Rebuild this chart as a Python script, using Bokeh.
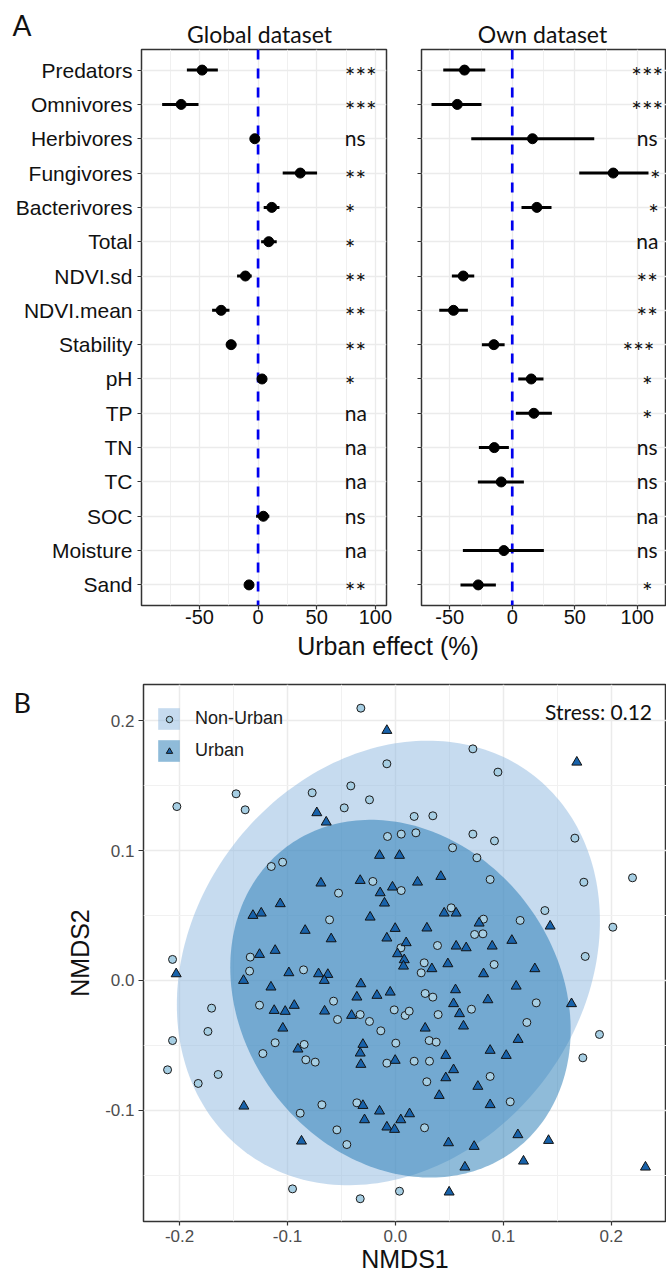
import numpy as np
from bokeh.plotting import figure
from bokeh.models import (FactorRange, Range1d, FixedTicker, Legend, LegendItem,
                          ColumnDataSource, Span, PrintfTickFormatter, CustomJSTickFormatter)
from bokeh.layouts import column, row
from bokeh.embed import file_html
from bokeh.resources import INLINE
from bokeh.core.properties import value

NA = float("nan")

# ---------------- Panel A data ----------------
categories = ["Predators", "Omnivores", "Herbivores", "Fungivores", "Bacterivores", "Total",
              "NDVI.sd", "NDVI.mean", "Stability", "pH", "TP", "TN", "TC", "SOC", "Moisture", "Sand"]

global_effect = [-47.7, -65.6, -2.8, 36.0, 11.7, 9.1, -10.8, -31.5, -23.0, 3.4, NA, NA, NA, 4.5, NA, -7.7]
global_lower = [-60.7, -81.8, -4.3, 21.0, 4.8, 2.6, -17.9, -39.2, -27.0, 1.6, NA, NA, NA, -1.7, NA, -9.4]
global_upper = [-34.3, -50.8, -1.3, 50.3, 18.2, 15.9, -5.4, -24.4, -18.5, 5.2, NA, NA, NA, 9.6, NA, -6.0]
global_signif = ["***", "***", "ns", "**", "*", "*", "**", "**", "**", "*", "na", "na", "na", "ns", "na", "**"]

own_effect = [-38.2, -44.0, 16.2, 80.8, 19.7, NA, -39.2, -47.0, -14.7, 15.2, 17.3, -14.4, -8.8, NA, -6.7, -27.2]
own_lower = [-55.2, -64.6, -32.8, 53.6, 7.4, NA, -48.3, -58.4, -24.3, 4.8, 2.9, -26.7, -27.5, NA, -39.5, -41.4]
own_upper = [-21.6, -24.6, 65.6, 109.0, 31.4, NA, -30.4, -35.5, -6.1, 25.0, 31.7, -2.7, 9.3, NA, 25.3, -13.1]
own_signif = ["***", "***", "ns", "*", "*", "na", "**", "**", "***", "*", "*", "ns", "ns", "na", "ns", "*"]

panel_titles = ["Global dataset", "Own dataset"]
effect_axis_title = "Urban effect (%)"
effect_ticks = [-50, 0, 50, 100]
effect_minor_ticks = [-75, -25, 25, 75]

# ---------------- Panel B data ----------------
nonurban_x = [
    -0.2025, -0.1476, -0.1392, -0.0771, -0.115, -0.1045, -0.061, -0.1345, -0.2065, -0.1351, -0.0851,
    -0.0573, -0.1259, -0.1703, -0.0536, -0.1737, -0.2065, -0.1114, -0.0845, -0.1228, -0.083,
    -0.0743, -0.2111, -0.1642, -0.1827, -0.0681, -0.0882, -0.0542, -0.0953,
    -0.032, -0.0079, 0.0718, 0.095, -0.0413, -0.024, -0.0474, 0.0174, 0.0347, -0.0073,
    0.0054, 0.019, 0.0718, 0.0918, 0.1663, 0.053, 0.0755, 0.2197, 0.1746, 0.0878,
    -0.0209, 0.0054, -0.0527, 0.1385, 0.0517, 0.0816, 0.1156, 0.2015, 0.0734, 0.0811,
    0.039, 0.0051, 0.1759, 0.0267, 0.0239, 0.0915,
    0.0276, 0.0347, 0.1305, 0.0705, -0.0326, -0.0011, 0.0091, 0.0128, -0.024, 0.0396,
    0.1218, -0.0135, 0.1891, 0.0004, 0.0313, 0.0378, 0.1737, -0.0079, 0.0174, 0.0316,
    0.0878, 0.0291, -0.0357, 0.1064, 0.027, -0.045, 0.0038, -0.0326]
nonurban_y = [
    0.1338, 0.1436, 0.1313, 0.1444, 0.0877, 0.091, 0.0467, 0.018, 0.0162, 0.0072, 0.0082,
    -0.0159, -0.019, -0.0213, -0.03, -0.0392, -0.0462, -0.0479, -0.0492, -0.0562, -0.061,
    -0.0628, -0.0687, -0.0723, -0.0792, -0.0956, -0.1021, -0.1149, -0.1603,
    0.2095, 0.1667, 0.1782, 0.1603, 0.1497, 0.139, 0.1328, 0.1262, 0.1267, 0.1108,
    0.1126, 0.1136, 0.1126, 0.1074, 0.1095, 0.1021, 0.0944, 0.079, 0.0756, 0.0777,
    0.0762, 0.0692, 0.0672, 0.0538, 0.0559, 0.0472, 0.0462, 0.041, 0.0354, 0.0359,
    0.0269, 0.0251, 0.0185, 0.0136, 0.0059, 0.0123,
    -0.01, -0.0128, -0.0172, -0.0221, -0.0262, -0.0226, -0.0269, -0.0236, -0.0315, -0.0262,
    -0.0323, -0.0387, -0.0415, -0.0482, -0.0462, -0.0474, -0.0595, -0.0636, -0.0621, -0.0621,
    -0.0738, -0.0779, -0.0941, -0.0933, -0.1133, -0.1262, -0.1621, -0.1679]

urban_x = [
    -0.0728, -0.0641, -0.069, -0.1067, -0.132, -0.1243, -0.0836, -0.0595, -0.1114, -0.1259,
    -0.2031, -0.0987, -0.0712, -0.0626, -0.1407,
    -0.0659, -0.1153, -0.1123, -0.1021, -0.0937, -0.0656, -0.1043, -0.0903, -0.1404, -0.087,
    -0.0079, 0.1681, -0.0147, 0.0038, -0.0326, -0.0027, 0.0205, 0.0421, -0.0141, -0.0101,
    0.0452, 0.0563, -0.0234, 0.0776, 0.1434, -0.0002, 0.0292, -0.0079, 0.01, 0.1079,
    0.0563, 0.0656, 0.0897, 0.002, 0.0082, 0.0075, 0.0338, 0.0486, 0.0817, 0.1292,
    -0.032, -0.0357, -0.0171, -0.0048, 0.0557, 0.0857, 0.1119, 0.1632, 0.0539, -0.0406,
    0.0594, 0.0631, 0.0276, -0.0301, 0.1137, -0.0326, 0.0878, 0.1027, 0.0467, -0.032,
    -0.0002, 0.0539, 0.0467, 0.0764, 0.0406, -0.0301, 0.0878, -0.0147, 0.0131, -0.0286,
    0.005, -0.0079, -0.0008, 0.0492, 0.073, 0.1135, 0.1419, 0.1187, 0.0644, 0.2317, 0.0498]
urban_y = [
    0.129, 0.1218, 0.0749, 0.059, 0.05, 0.0518, 0.0385, 0.032, 0.0231, 0.02,
    0.0051, 0.0059, 0.0051, 0.0046, 0.0,
    0.0, -0.0051, -0.0231, -0.0238, -0.0192, -0.0236, -0.0367, -0.0528, -0.0967, -0.1236,
    0.1923, 0.1679, 0.0962, 0.0962, 0.0769, 0.0718, 0.0756, 0.08, 0.0674, 0.0595,
    0.0518, 0.0518, 0.0487, 0.0441, 0.0418, 0.04, 0.0403, 0.0326, 0.029, 0.0308,
    0.0264, 0.0251, 0.0264, 0.0205, 0.0159, 0.011, 0.009, 0.0128, 0.0051, 0.009,
    -0.0026, -0.0128, -0.0115, -0.009, -0.0072, -0.0149, -0.0044, -0.0179, -0.0179, -0.0269,
    -0.0256, -0.0351, -0.0367, -0.0492, -0.0454, -0.0559, -0.0538, -0.0577, -0.0577, -0.0646,
    -0.0615, -0.0687, -0.0749, -0.0815, -0.0885, -0.0962, -0.0956, -0.1005, -0.1026, -0.1072,
    -0.1072, -0.1128, -0.1146, -0.1249, -0.1277, -0.1187, -0.1231, -0.139, -0.1436, -0.1436, -0.1628]

# ellipse parameters: centre x, centre y, sd x, sd y, covariance
nonurban_ellipse = [-0.0065, 0.0135, 0.196, 0.171, 0.0063]
urban_ellipse = [0.0047, -0.014, 0.1577, 0.1376, -0.0038]
stress_value = 0.12

nmds_ticks = [-0.2, -0.1, 0.0, 0.1, 0.2]
nmds_minor = [-0.15, -0.05, 0.05, 0.15]
nmds2_ticks = [-0.1, 0.0, 0.1, 0.2]

SANS = "Liberation Sans"
CAL = "Lato"
INK = "#111111"


def text_strip(width, height):
    """A blank figure whose data units are pixels (y downwards), used to hold free text."""
    s = figure(width=width, height=height, title=None,
               x_range=Range1d(0, width), y_range=Range1d(height, 0),
               x_axis_type=None, y_axis_type=None, output_backend="svg", toolbar_location=None,
               min_border_left=0, min_border_right=0, min_border_top=0, min_border_bottom=0)
    s.outline_line_color = None
    s.background_fill_color = "white"
    s.border_fill_color = "white"
    return s


def put_text(s, x, y, txt, font, size, align="left", color=INK):
    # y is the vertical middle of the text line
    s.text(x=[x], y=[y], text=[txt], text_font=value(font), text_font_size=value(size),
           text_align=align, text_baseline="middle", text_color=color)


def effect_panel(effect, lower, upper, signif, nudge, x_start, x_end, width,
                 border_left, border_right, show_labels, sig_x, sig_align):
    p = figure(width=width, height=585, title=None,
               x_range=Range1d(x_start, x_end),
               y_range=FactorRange(factors=list(reversed(categories)),
                                   range_padding=0.1, range_padding_units="absolute"),
               output_backend="svg", toolbar_location=None,
               min_border_left=border_left, min_border_right=border_right,
               min_border_top=2, min_border_bottom=27)
    p.background_fill_color = "white"
    p.border_fill_color = "white"
    p.outline_line_color = "#333333"
    p.outline_line_width = 1.5

    ticker = FixedTicker(ticks=effect_ticks, minor_ticks=effect_minor_ticks)
    p.xaxis.ticker = ticker
    p.xgrid.ticker = ticker
    p.xaxis.formatter = PrintfTickFormatter(format="%d")
    p.xgrid.grid_line_color = "#ebebeb"
    p.xgrid.grid_line_width = 1.3
    p.xgrid.minor_grid_line_color = "#f0f0f0"
    p.xgrid.minor_grid_line_width = 1
    p.ygrid.grid_line_color = "#ebebeb"
    p.ygrid.grid_line_width = 1.3

    for ax in (p.xaxis[0], p.yaxis[0]):
        ax.axis_line_color = None
        ax.major_tick_line_color = "#333333"
        ax.major_tick_line_width = 1.2
        ax.major_tick_in = 0
        ax.major_tick_out = 4
        ax.minor_tick_line_color = None
    p.xaxis.major_label_text_font = SANS
    p.xaxis.major_label_text_font_size = "20px"
    p.xaxis.major_label_text_color = INK
    p.xaxis.major_label_standoff = 0
    p.yaxis.major_label_text_font = SANS
    p.yaxis.major_label_text_font_size = "21px"
    p.yaxis.major_label_text_color = INK
    p.yaxis.major_label_standoff = 5
    if not show_labels:
        p.yaxis.formatter = CustomJSTickFormatter(code="return ''")
        p.yaxis.major_label_standoff = 0

    p.add_layout(Span(location=0, dimension="height", line_color="#0000ee",
                      line_width=2.7, line_dash="10 9", level="underlay"))

    src = ColumnDataSource(dict(cat=categories, est=effect, lo=lower, hi=upper))
    p.segment(x0="lo", y0="cat", x1="hi", y1="cat", source=src,
              line_color="black", line_width=3)
    p.scatter(x="est", y="cat", source=src, size=10, fill_color="black", line_color="black")

    sig_src = ColumnDataSource(dict(
        x=[sig_x + d for d in nudge], y=categories, text=signif,
        fs=["25px" if "*" in s else "21px" for s in signif],
        dy=[6 if "*" in s else -1 for s in signif]))
    p.text(x="x", y="y", text="text", y_offset="dy", source=sig_src,
           text_font=value(CAL), text_font_size="fs", text_align=sig_align,
           text_baseline="middle", text_color=INK)
    return p


# small horizontal nudges of the significance labels (axis units), as placed in the original
global_nudge = [0] * 16
own_nudge = [0, 0, 0, 6.5, 5, 0, 0, 0, -7, 0, 0, 0, 0, 0, 0, 0]

# ---- top strip with panel letter and panel titles ----
top = text_strip(666, 47)
put_text(top, 12, 24, "A", CAL, "28px")
put_text(top, 259, 33, panel_titles[0], CAL, "23px", "center")
put_text(top, 542, 33, panel_titles[1], CAL, "23px", "center")

pL = effect_panel(global_effect, global_lower, global_upper, global_signif, global_nudge,
                  -99.4, 109.5, 400, 141, 14, True, 74, "left")
pR = effect_panel(own_effect, own_lower, own_upper, own_signif, own_nudge,
                  -72.6, 123.4, 266, 21, 0, False, 108, "center")

# ---- strip with the shared x-axis title of panel A ----
mid = text_strip(666, 48)
put_text(mid, 387.5, 13, effect_axis_title, SANS, "25px", "center")

# ---- panel B ----
stripB = text_strip(60, 596)
put_text(stripB, 13, 20, "B", CAL, "27px")

pB = figure(width=606, height=596, title=None,
            x_range=Range1d(-0.2334, 0.2512), y_range=Range1d(-0.1854, 0.2277),
            output_backend="svg", toolbar_location=None,
            min_border_left=83, min_border_right=0, min_border_top=4, min_border_bottom=55)
pB.background_fill_color = "white"
pB.border_fill_color = "white"
pB.outline_line_color = "#333333"
pB.outline_line_width = 1.5

xt = FixedTicker(ticks=nmds_ticks, minor_ticks=nmds_minor)
yt = FixedTicker(ticks=nmds2_ticks, minor_ticks=nmds_minor)
pB.xaxis.ticker = xt
pB.xgrid.ticker = xt
pB.yaxis.ticker = yt
pB.ygrid.ticker = yt
for g in (pB.xgrid[0], pB.ygrid[0]):
    g.grid_line_color = "#ebebeb"
    g.grid_line_width = 1.5
    g.minor_grid_line_color = "#f1f1f1"
    g.minor_grid_line_width = 1.1
for ax in (pB.xaxis[0], pB.yaxis[0]):
    ax.axis_line_color = None
    ax.major_tick_line_color = "#333333"
    ax.major_tick_line_width = 1.2
    ax.major_tick_in = 0
    ax.minor_tick_line_color = None
    ax.formatter = PrintfTickFormatter(format="%.1f")
    ax.major_label_text_font = SANS
    ax.major_label_text_font_size = "17px"
    ax.major_label_text_color = "#4d4d4d"
    ax.axis_label_text_font = SANS
    ax.axis_label_text_font_size = "25px"
    ax.axis_label_text_font_style = "normal"
    ax.axis_label_text_color = INK
pB.xaxis.major_tick_out = 4
pB.xaxis.major_label_standoff = 4
pB.xaxis.axis_label = "NMDS1"
pB.xaxis.axis_label_standoff = 0
pB.yaxis.major_tick_out = 5
pB.yaxis.major_label_standoff = 4
pB.yaxis.axis_label = "NMDS2"
pB.yaxis.axis_label_standoff = 8


def ellipse_xy(params):
    cx, cy, sx, sy, cxy = params
    cov = np.array([[sx ** 2, cxy], [cxy, sy ** 2]])
    chol = np.linalg.cholesky(cov)
    t = np.linspace(0, 2 * np.pi, 241)
    pts = chol @ np.vstack([np.cos(t), np.sin(t)])
    return cx + pts[0], cy + pts[1]


ex, ey = ellipse_xy(nonurban_ellipse)
e_non = pB.patch(ex, ey, fill_color="#8db7df", fill_alpha=0.5, line_color=None)
ex, ey = ellipse_xy(urban_ellipse)
e_urb = pB.patch(ex, ey, fill_color="#1f78b4", fill_alpha=0.5, line_color=None)

s_non = pB.scatter(nonurban_x, nonurban_y, marker="circle", size=8,
                   fill_color="#a6cee3", line_color="#1a1a1a", line_width=1)
s_urb = pB.scatter(urban_x, urban_y, marker="triangle", size=10,
                   fill_color="#1862aa", line_color="#111111", line_width=1)

# legend: filled key boxes with labels ...
legend_boxes = Legend(items=[LegendItem(label="Non-Urban", renderers=[e_non]),
                             LegendItem(label="Urban", renderers=[e_urb])],
                      location=(12, 457), orientation="vertical",
                      glyph_width=27, glyph_height=27, spacing=5, padding=0, margin=0,
                      label_standoff=13, label_text_font=SANS, label_text_font_size="18px",
                      label_text_color="#1a1a1a", border_line_color=None,
                      background_fill_alpha=0)
pB.add_layout(legend_boxes)
# ... and the small point symbols drawn centred in those boxes
legend_marks = Legend(items=[LegendItem(label=" ", renderers=[s_non]),
                             LegendItem(label=" ", renderers=[s_urb])],
                      location=(17.5, 462.5), orientation="vertical",
                      glyph_width=16, glyph_height=16, spacing=16, padding=0, margin=0,
                      label_standoff=0, label_height=16, label_width=1,
                      label_text_font=SANS, label_text_font_size="8px",
                      border_line_color=None, background_fill_alpha=0)
pB.add_layout(legend_marks)

# stress annotation inside the frame (data units)
pB.text(x=[0.2378], y=[0.2073], text=["Stress: %.2f" % stress_value],
        text_font=value(CAL), text_font_size=value("21px"), text_align="right",
        text_baseline="middle", text_color=INK)

layout = column(top, row(pL, pR), mid, row(stripB, pB))
open("out.html", "w").write(file_html(layout, INLINE))
